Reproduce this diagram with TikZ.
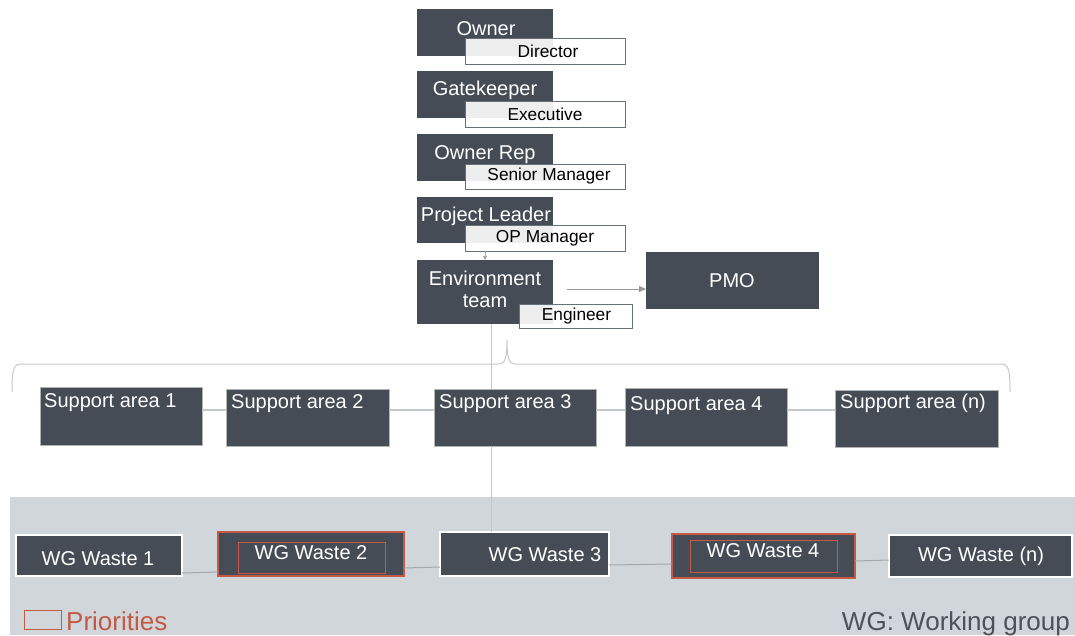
\documentclass[tikz,border=0pt]{standalone}
\usepackage{fontspec}
\setmainfont{Liberation Sans}
\usetikzlibrary{arrows.meta,calc}
\definecolor{dark}{HTML}{454C56}
\definecolor{band}{HTML}{D1D6DB}
\definecolor{prio}{HTML}{C25A45}
\definecolor{conn}{HTML}{C4C7CA}
\definecolor{wgconn}{HTML}{A3A8AD}
\definecolor{legend}{HTML}{4D5259}
\tikzset{
  box/.style={rectangle, fill=dark, inner sep=0pt, outer sep=0pt},
  sabox/.style={box, draw=gray!60, line width=0.8pt},
  wgbox/.style={box, draw=white, line width=1.4pt},
  prbox/.style={box, draw=prio, line width=1.4pt},
  sub/.style={rectangle, draw=dark!80, line width=1pt, fill=white, fill opacity=0.91, text opacity=1, inner sep=0pt, outer sep=0pt, font=\fontsize{17.3}{19}\selectfont},
  ttl/.style={text=white, inner sep=0pt, font=\fontsize{20}{22.5}\selectfont, align=center},
  line/.style={draw=conn, line width=1pt},
  thick line/.style={draw=conn, line width=2pt},
  wgline/.style={draw=wgconn, line width=1pt},
  arr/.style={draw=gray!80, line width=1pt, -{Triangle[length=7pt,width=6pt]}},
}
\begin{document}
\begin{tikzpicture}[x=1pt,y=-1pt]
\useasboundingbox (0,0) rectangle (1075,635);
% grey band
\fill[band] (10,497) rectangle (1075,635);

% hierarchy
\node[box, minimum width=136pt, minimum height=47pt] (owner) at (485,32.5) {};
\node[ttl] at (486,28.5) {Owner};
\node[sub, minimum width=160pt, minimum height=26pt] (dir) at (545,51) {\hspace*{6pt}Director};

\node[box, minimum width=136pt, minimum height=47pt] (gate) at (485,94.5) {};
\node[ttl] at (485,90.5) {Gatekeeper};
\node[sub, minimum width=160pt, minimum height=26pt] (exe) at (545,114) {Executive};

\node[box, minimum width=136pt, minimum height=47pt] (rep) at (485,157.5) {};
\node[ttl] at (485,154.5) {Owner Rep};
\node[sub, minimum width=160pt, minimum height=25pt] (sm) at (545,176.5) {\hspace*{8pt}Senior Manager};

\node[box, minimum width=136pt, minimum height=46pt] (pl) at (485,220) {};
\node[ttl] at (486,216.5) {Project Leader};
\node[sub, minimum width=160pt, minimum height=26pt] (opm) at (545,238) {OP Manager};

\node[box, minimum width=136pt, minimum height=64pt] (env) at (485,292) {};
\node[ttl] at (485,289.5) {Environment\\[-1pt]team};
\node[sub, minimum width=113pt, minimum height=24pt] (eng) at (575.5,316) {\hspace*{2pt}Engineer};

\node[box, minimum width=173pt, minimum height=57pt] (pmo) at (732.5,280.5) {};
\node[ttl] at (732,280.5) {PMO};

\draw[draw=gray!70, line width=0.8pt, -{Triangle[length=4pt,width=4pt]}] (opm.south -| env.north) -- (env.north);
\draw[arr] (567,289) -- (pmo.west |- 0,289) ;

% brace
\draw[draw=conn, line width=1pt] (12,392) .. controls (12,367) and (14,364) .. (22,364) -- (499,364) .. controls (505,364) and (507,358) .. (507,340) .. controls (507,358) and (509,364) .. (515,364) -- (1000,364) .. controls (1008,364) and (1010,367) .. (1010,392);

% support areas
\node[sabox, minimum width=162pt, minimum height=58pt] (sa1) at (121,416) {};
\node[sabox, minimum width=163pt, minimum height=57pt] (sa2) at (307.5,417.5) {};
\node[sabox, minimum width=162pt, minimum height=57pt] (sa3) at (515,417.5) {};
\node[sabox, minimum width=162pt, minimum height=58pt] (sa4) at (706,417) {};
\node[sabox, minimum width=163pt, minimum height=57pt] (san) at (916.5,418.5) {};
\node[ttl, anchor=west] at ([xshift=4pt,yshift=-16pt]sa1.north west) {Support area 1};
\node[ttl, anchor=west] at ([xshift=5pt,yshift=-15pt]sa2.north west) {Support area 2};
\node[ttl, anchor=west] at ([xshift=5pt,yshift=-15pt]sa3.north west) {Support area 3};
\node[ttl, anchor=west] at ([xshift=5pt,yshift=-18pt]sa4.north west) {Support area 4};
\node[ttl, anchor=west] at ([xshift=5pt,yshift=-13pt]san.north west) {Support area (n)};

\draw[thick line] (sa1.east |- 0,410) -- (sa2.west |- 0,410);
\draw[thick line] (sa2.east |- 0,410) -- (sa3.west |- 0,410);
\draw[thick line] (sa3.east |- 0,410) -- (sa4.west |- 0,410);
\draw[thick line] (sa4.east |- 0,410) -- (san.west |- 0,410);

\coordinate (vx) at (491,0);
\draw[line] (env.south -| vx) -- (sa3.north -| vx);

% working groups
\node[wgbox, minimum width=166pt, minimum height=41pt] (wg1) at (99,555.5) {};
\node[prbox, minimum width=186pt, minimum height=44pt] (wg2) at (311,554) {};
\node[box, draw=prio, line width=1pt, fill=none, minimum width=147pt, minimum height=31pt] (wg2i) at (311.5,557.5) {};
\node[wgbox, minimum width=169pt, minimum height=44pt] (wg3) at (524.5,554) {};
\node[prbox, minimum width=183pt, minimum height=44pt] (wg4) at (763.5,556) {};
\node[box, draw=prio, line width=1pt, fill=none, minimum width=147pt, minimum height=32pt] (wg4i) at (763.5,556) {};
\node[wgbox, minimum width=183pt, minimum height=42pt] (wgn) at (980.5,556) {};
\node[ttl] at (98,558.5) {WG Waste 1};
\node[ttl] at (311,552.5) {WG Waste 2};
\node[ttl] at (545,554.5) {WG Waste 3};
\node[ttl] at (763,550.5) {WG Waste 4};
\node[ttl] at (981,556.5) {WG Waste (n)};

\draw[line] (sa3.south -| vx) -- (wg3.north -| vx);
\draw[wgline] (wg1.east |- 0,573) -- (wg2.west |- 0,572);
\draw[wgline] (wg2.east |- 0,568) -- (wg3.west |- 0,567);
\draw[wgline] (wg3.east |- 0,565) -- (wg4.west |- 0,564);
\draw[wgline] (wg4.east |- 0,561) -- (wgn.west |- 0,560);

% legend
\node[rectangle, draw=prio, line width=1pt, minimum width=37pt, minimum height=19pt, inner sep=0pt] (lg) at (42.5,620) {};
\node[anchor=base west, inner sep=0pt, text=prio, font=\fontsize{26}{30}\selectfont] (prl) at (66,630) {Priorities};
\node[anchor=base east, inner sep=0pt, text=legend, font=\fontsize{26}{30}\selectfont] (wgl) at (1070,630) {WG: Working group};
\end{tikzpicture}
\end{document}
